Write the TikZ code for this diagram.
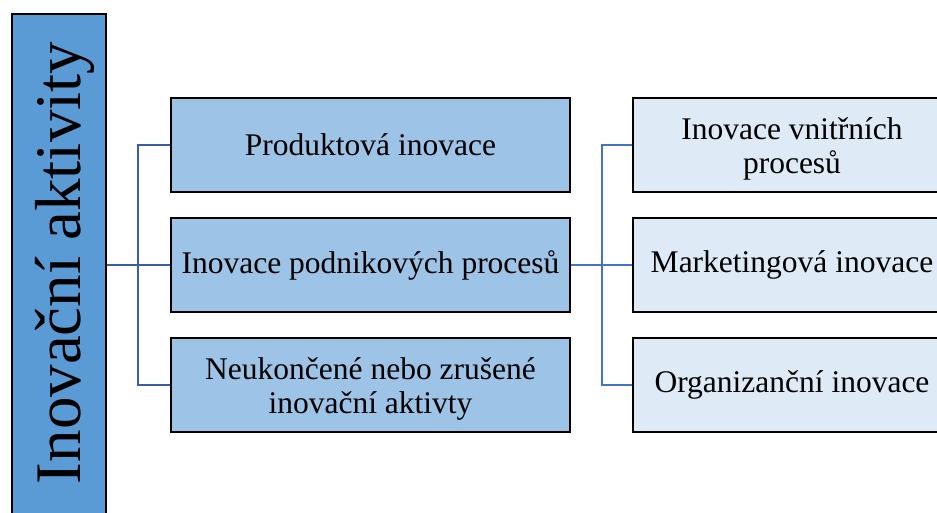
\documentclass[tikz,border=0pt]{standalone}
\usepackage{fontspec}
\setmainfont{Liberation Serif}
\definecolor{topblue}{HTML}{5B9BD5}
\definecolor{midblue}{HTML}{9DC3E6}
\definecolor{paleblue}{HTML}{DEEBF7}
\definecolor{linkdark}{HTML}{3A5DA5}
\definecolor{linklight}{HTML}{4472C4}
% taller first line so two-line labels sit a little lower in their boxes
\newcommand\firstlinestrut{\rule{0pt}{29.5pt}}
\begin{document}
\begin{tikzpicture}[x=1pt,y=-1pt,
  boxbase/.style={draw=black, line width=2pt, rectangle, inner sep=0pt, align=center,
    font=\fontsize{31.5}{34}\selectfont},
  rootbox/.style={boxbase, fill=topblue, minimum width=94pt, minimum height=530pt},
  midbox/.style={boxbase, fill=midblue, minimum width=399pt, minimum height=94pt},
  leafbox/.style={boxbase, fill=paleblue, minimum width=318pt, minimum height=94pt},
  rootlink/.style={draw=linkdark, line width=2.6pt},
  branchlink/.style={draw=linkdark, line width=1.9pt},
  splitlink/.style={draw=linklight, line width=2.2pt},
  leaflink/.style={draw=linklight, line width=1.1pt}]
\useasboundingbox (0,0) rectangle (937,512);

% root column with vertical title
\node[rootbox] (main) at (59,279) {};
\node[rotate=90, anchor=base, inner sep=0pt, font=\fontsize{65}{70}\selectfont] (title) at (80,263) {Inovační aktivity};

% middle column
\node[midbox] (m1) at (370.5,145) {Produktová inovace};
\node[midbox] (m2) at (370.5,265) {Inovace podnikových procesů};
\node[midbox] (m3) at (370.5,385) {\firstlinestrut Neukončené nebo zrušené\\inovační aktivty};

% right column
\node[leafbox] (r1) at (792,145) {\firstlinestrut Inovace vnitřních\\procesů};
\node[leafbox] (r2) at (792,265) {Marketingová inovace};
\node[leafbox] (r3) at (792,385) {Organizanční inovace};

% junction points
\coordinate (lj) at (138,265);
\coordinate (rj) at (602,265);

% connectors
\draw[branchlink] (m1.west) -| (lj) |- (m3.west);
\draw[rootlink] (main.east |- m2.west) -- (m2.west);
\draw[leaflink] (r1.west) -| (rj) |- (r3.west);
\draw[splitlink] (m2.east) -- (r2.west);
\end{tikzpicture}
\end{document}
